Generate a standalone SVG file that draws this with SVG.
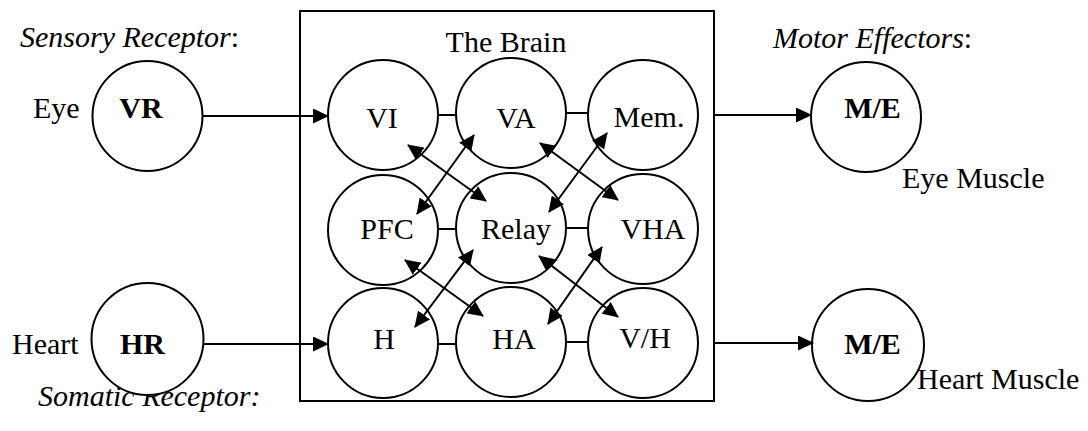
<svg xmlns="http://www.w3.org/2000/svg" width="1088" height="431" viewBox="0 0 1088 431" font-family="'Liberation Serif', 'Times New Roman', 'DejaVu Serif', serif" font-size="30">
<style>
.c{fill:#fff;stroke:#000;stroke-width:2}
.l{stroke:#000;stroke-width:2;fill:none}
.a{stroke:#000;stroke-width:2;fill:none;marker-end:url(#ah)}
.d{stroke:#000;stroke-width:2;fill:none;marker-start:url(#ah);marker-end:url(#ah)}
text{font-family:'Liberation Serif','Times New Roman',serif;font-size:30px;fill:#000}
.b{font-weight:bold}
.i{font-style:italic}
.m{text-anchor:middle}
</style>
<defs>
<marker id="ah" markerUnits="userSpaceOnUse" viewBox="0 0 16 15" markerWidth="16" markerHeight="15" refX="15" refY="7.5" orient="auto-start-reverse">
<path d="M0,0 L16,7.5 L0,15 z" fill="#000"/>
</marker>
</defs>
<rect x="300" y="11" width="414" height="390" fill="none" stroke="#000" stroke-width="2"/>
<text x="506" y="52" class="m">The Brain</text>
<text x="20" y="47"><tspan class="i">Sensory Receptor</tspan>:</text>
<text x="38" y="406" class="i">Somatic Receptor:</text>
<text x="773" y="48"><tspan class="i">Motor Effectors</tspan>:</text>
<text x="33" y="118">Eye</text>
<text x="12" y="354">Heart</text>
<text x="902" y="188">Eye Muscle</text>
<text x="917" y="389">Heart Muscle</text>
<g id="VR"><circle class="c" cx="147.5" cy="116" r="55"/><text x="141" y="118" class="b m">VR</text></g>
<g id="HR"><circle class="c" cx="147.5" cy="339" r="56"/><text x="142.5" y="354" class="b m">HR</text></g>
<g id="ME1"><circle class="c" cx="866" cy="117" r="55"/><text x="872.5" y="118" class="b m">M/E</text></g>
<g id="ME2"><circle class="c" cx="868" cy="345" r="56"/><text x="872.5" y="354" class="b m">M/E</text></g>
<g id="VI"><circle class="c" cx="383" cy="115" r="55"/><text x="382" y="128" class="m">VI</text></g>
<g id="VA"><circle class="c" cx="511" cy="113" r="55"/><text x="516" y="128" class="m">VA</text></g>
<g id="Mem"><circle class="c" cx="643" cy="115" r="55"/><text x="649" y="127" class="m">Mem.</text></g>
<g id="PFC"><circle class="c" cx="383" cy="230" r="55"/><text x="387" y="239" class="m">PFC</text></g>
<g id="Relay"><circle class="c" cx="511" cy="228" r="55"/><text x="516" y="239" class="m">Relay</text></g>
<g id="VHA"><circle class="c" cx="643" cy="229" r="55"/><text x="653" y="239" class="m">VHA</text></g>
<g id="H"><circle class="c" cx="383" cy="343" r="55"/><text x="384" y="349" class="m">H</text></g>
<g id="HA"><circle class="c" cx="511" cy="342" r="55"/><text x="514" y="349" class="m">HA</text></g>
<g id="VH"><circle class="c" cx="643" cy="343" r="55"/><text x="645" y="348" class="m">V/H</text></g>
<g id="connectors">
<line class="a" x1="203" y1="116" x2="328" y2="116"/>
<line class="a" x1="203" y1="344" x2="328" y2="344"/>
<line class="a" x1="715" y1="115" x2="811" y2="115"/>
<line class="a" x1="715" y1="343" x2="813" y2="343"/>
<line class="l" x1="438" y1="115" x2="456" y2="115"/>
<line class="l" x1="566" y1="113" x2="588" y2="113"/>
<line class="l" x1="438" y1="229" x2="456" y2="229"/>
<line class="l" x1="566" y1="228" x2="588" y2="228"/>
<line class="l" x1="438" y1="344" x2="456" y2="344"/>
<line class="l" x1="566" y1="342" x2="588" y2="342"/>
<line class="d" x1="408" y1="145" x2="486" y2="201"/>
<line class="d" x1="474" y1="135" x2="417" y2="214"/>
<line class="d" x1="540" y1="143" x2="618" y2="200"/>
<line class="d" x1="607" y1="133" x2="549" y2="212"/>
<line class="d" x1="405" y1="260" x2="483" y2="316"/>
<line class="d" x1="473" y1="250" x2="415" y2="327"/>
<line class="d" x1="539" y1="256" x2="618" y2="317"/>
<line class="d" x1="602" y1="247" x2="548" y2="324"/>
</g>
</svg>
